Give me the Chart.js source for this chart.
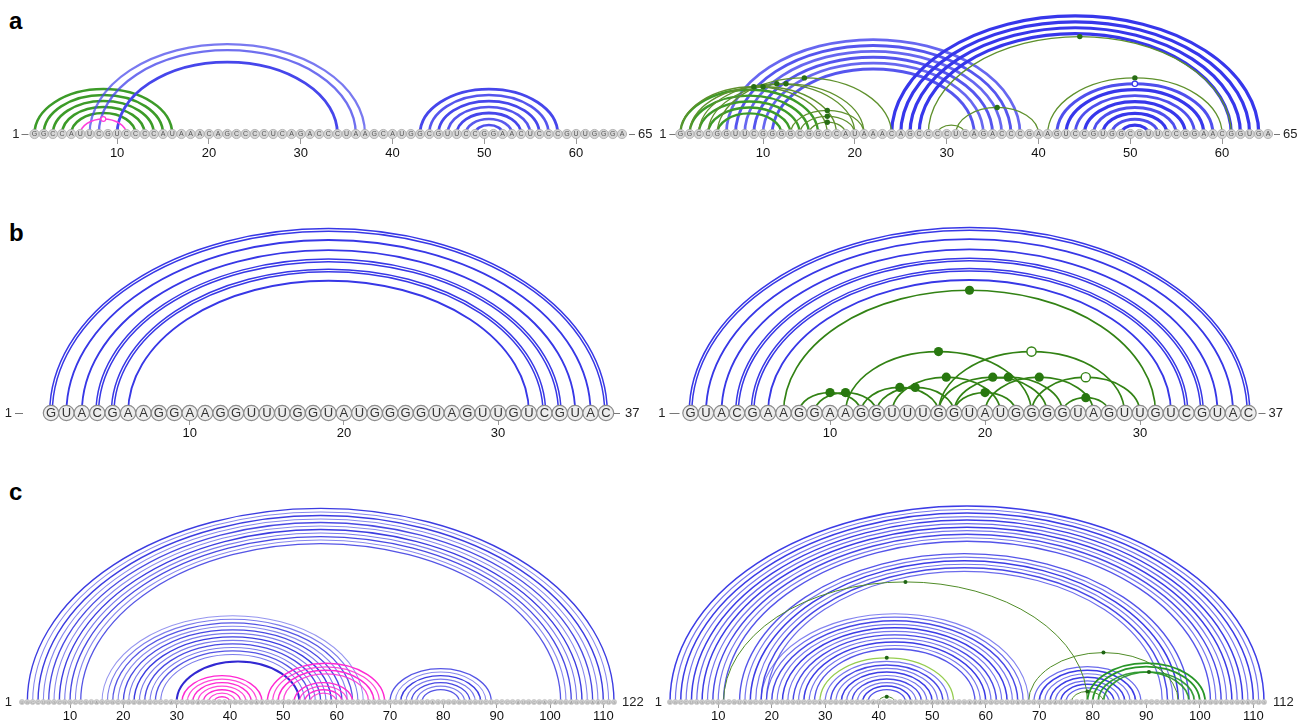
<!DOCTYPE html>
<html>
<head>
<meta charset="utf-8">
<script src="https://cdn.jsdelivr.net/npm/chart.js@4.4.1/dist/chart.umd.min.js"></script>
<style>
  html, body { margin: 0; padding: 0; background: #fff; overflow: hidden; }
  #fig { position: relative; width: 1299px; height: 720px; overflow: hidden; }
  #fig canvas { position: absolute; }
  .tag { position: absolute; font: bold 24px "Liberation Sans", Arial, sans-serif; color: #000; }
</style>
</head>
<body>
<div id="fig">
  <div class="tag" style="left:9px;top:7px">a</div>
  <div class="tag" style="left:9px;top:219px">b</div>
  <div class="tag" style="left:9px;top:478px">c</div>
</div>
<script>
// ---- sequences ----
const aLeftSeq = ['GGCCAUUCGU', 'CCCCAUAAAC', 'AGCCCCUCAG', 'ACCCUAAGCA', 'UGGCGUUCCG', 'GAACUCCCGU', 'UGGGA'].join('');
const aRightSeq = ['GGCCGGUUCG', 'GGGCGGCCAU', 'AAACAGCCCC', 'UCAGACCCGA', 'AGUCCGUGGC', 'GUUCCGGAAC', 'GGUGA'].join('');
const bSeq = ['GUACGAAGGA', 'AGGUUUGGUA', 'UGGGGUAGUU', 'GUCGUAC'].join('');
const cSeq = ['UGCCUGGCGG', 'CCGUAGCGCG', 'GUGGUCCCAC', 'CUGACCCCAU', 'GCCGAACUCA', 'GAAGUGAAAC',
  'GCCGUAGCGC', 'CGAUGGUAGU', 'GUGGGGUCUC', 'CCCAUGCGAG', 'AGUAGGGAAC', 'UG'].join('');

// ---- tick labels / end labels ----
const aTicks = [10, 20, 30, 40, 50, 60];
const bTicks = [10, 20, 30];
const cTicks = [10, 20, 30, 40, 50, 60, 70, 80, 90, 100, 110];
const aEnds = ['1', '65'];
const bEnds = ['1', '37'];
const cLeftEnds = ['1', '122'];
const cRightEnds = ['1', '112'];

// ---- base pairs [i, j, probability] ----
// panel a, left
const aLeftGreen = [[1, 16], [2, 15], [3, 14], [4, 13], [5, 12]];
const aLeftBlue = [[7, 37, 0.5], [8, 36, 0.6], [10, 34, 1],
  [43, 58, 1], [44, 57, 0.85], [45, 56, 1], [46, 55, 0.85], [47, 54, 1], [48, 53, 0.8], [49, 52, 0.9]];
const aLeftMagenta = [[6, 11]];

// panel a, right
const aRightBlue = [[6, 38, 0.6], [7, 37, 0.75], [8, 36, 0.6], [9, 35, 0.75], [10, 34, 0.6], [11, 33, 0.75],
  [24, 64, 1], [25, 63, 1], [26, 62, 1], [27, 61, 1],
  [42, 59, 0.8], [43, 58, 1], [44, 57, 0.8], [45, 56, 1], [46, 55, 0.8], [47, 54, 1], [48, 53, 0.8], [49, 52, 1]];
const aRightGreen = [[1, 16], [2, 15], [3, 14], [4, 13], [5, 12]];
const aRightGreenThin = [[1, 17], [2, 18], [3, 20], [4, 21], [5, 24], [13, 21], [14, 20], [15, 19],
  [29, 32], [31, 40], [41, 60], [28, 61]];
const aRightDots = [[1, 17], [2, 18], [3, 20], [4, 21], [5, 24], [13, 21], [14, 20], [15, 19], [31, 40], [41, 60], [28, 61]];
const aRightOpen = [[42, 59]];

// panel b
const bBlue = [[1, 37, 1], [2, 36, 0.6], [3, 35, 0.6], [4, 34, 1], [5, 33, 1], [6, 32, 0.6]];
const bRightGreen = [[7, 31], [11, 23], [17, 29], [14, 21], [17, 24], [18, 25], [20, 27], [23, 30],
  [12, 17], [13, 18], [8, 12], [9, 13], [18, 22], [25, 28]];
const bRightDots = [[7, 31], [11, 23], [14, 21], [17, 24], [18, 25], [20, 27], [12, 17], [13, 18],
  [8, 12], [9, 13], [18, 22], [25, 28]];
const bRightOpen = [[17, 29], [23, 30]];

// panel c, left
const cLeftBlue = [[2, 112, 1], [3, 111, 0.4], [4, 110, 1], [5, 109, 0.4], [6, 108, 0.9], [7, 107, 0.4],
  [8, 106, 1], [9, 105, 0.5], [10, 104, 0.9], [11, 103, 0.4], [12, 102, 0.8],
  [16, 65, 0.3], [17, 64, 0.5], [18, 63, 0.8], [19, 62, 0.4], [20, 61, 0.9], [21, 60, 0.5],
  [22, 59, 1], [23, 58, 0.5], [24, 57, 0.9], [25, 56, 0.5], [26, 55, 0.8], [27, 54, 0.5],
  [70, 89, 0.8], [71, 88, 0.4], [72, 87, 1], [73, 86, 0.5], [74, 85, 0.9], [75, 84, 0.5], [76, 83, 0.8]];
const cLeftBlueDark = [[30, 53]];
const cLeftMagenta = [[31, 46, 1], [32, 45, 0.7], [33, 44, 1], [34, 43, 0.7], [35, 42, 1], [36, 41, 0.7], [37, 40, 1],
  [47, 69, 1], [48, 68, 0.7], [49, 67, 1], [50, 66, 0.7],
  [52, 63, 1], [53, 62, 0.7], [54, 61, 1], [55, 60, 0.7]];

// panel c, right
const cRightBlue = [[1, 112, 1], [2, 111, 0.5], [3, 110, 1], [4, 109, 0.5], [5, 108, 1], [6, 107, 0.6],
  [7, 106, 1], [8, 105, 0.5], [9, 104, 0.9], [10, 103, 0.5], [11, 102, 0.8],
  [14, 98, 0.8], [15, 97, 0.5], [16, 96, 1], [17, 95, 0.5], [18, 94, 0.9], [19, 93, 0.6],
  [18, 68, 0.4], [19, 67, 0.6], [20, 66, 0.9], [21, 65, 0.5], [22, 64, 1], [23, 63, 0.5],
  [24, 62, 0.9], [25, 61, 0.5], [26, 60, 1], [27, 59, 0.5], [28, 58, 0.8],
  [30, 53, 0.5], [31, 52, 0.9], [32, 51, 0.5], [33, 50, 1], [34, 49, 0.5], [35, 48, 0.9],
  [36, 47, 0.5], [37, 46, 1], [38, 45, 0.8],
  [69, 89, 0.6], [70, 88, 1], [71, 87, 0.5], [72, 86, 1], [73, 85, 0.6], [74, 84, 1], [75, 83, 0.7]];
const cRightGreenThin = [[11, 79], [68, 96], [40, 43], [76, 82]];
const cRightGreenLight = [[29, 54]];
const cRightGreenThick = [[79, 101, 1], [80, 100, 1], [81, 98, 0.8], [82, 99, 0.8]];
const cRightDots = [[11, 79], [29, 54], [40, 43], [68, 96], [76, 82], [82, 99]];

// ---- drawing ----
const FONT = '"Liberation Sans", Arial, sans-serif';
const RATIO = 0.66; // arc height / half-width

const arcPlugin = {
  id: 'arcs',
  beforeDatasetsDraw(chart, args, o) {
    const { ctx } = chart;
    const x = chart.scales.x, y = chart.scales.y;
    const base = y.getPixelForValue(0);
    const geom = (i, j) => {
      const x1 = x.getPixelForValue(i), x2 = x.getPixelForValue(j);
      return { cx: (x1 + x2) / 2, rx: (x2 - x1) / 2, ry: base - y.getPixelForValue((j - i) / 2) };
    };
    ctx.save();
    // backbone
    ctx.strokeStyle = '#b0b0b0';
    ctx.lineWidth = 1;
    ctx.beginPath();
    ctx.moveTo(x.getPixelForValue(1), base);
    ctx.lineTo(x.getPixelForValue(o.seq.length), base);
    ctx.stroke();

    o.groups.forEach((g) => {
      g.pairs.forEach(([i, j, p = 1]) => {
        const { cx, rx, ry } = geom(i, j);
        ctx.strokeStyle = `rgba(${g.rgb},${g.a0 + (1 - g.a0) * p})`;
        const offs = g.gap && p >= 0.9 ? [-g.gap, g.gap] : [0];
        ctx.lineWidth = offs.length > 1 ? g.w2 : g.w * (0.6 + 0.4 * p);
        offs.forEach((d) => {
          ctx.beginPath();
          ctx.ellipse(cx, base, rx + d, ry + d, 0, Math.PI, 2 * Math.PI);
          ctx.stroke();
        });
      });
    });

    o.markers.forEach((m) => {
      m.pairs.forEach(([i, j]) => {
        const { cx, ry } = geom(i, j);
        ctx.beginPath();
        ctx.arc(cx, base - ry, m.r, 0, 2 * Math.PI);
        ctx.fillStyle = m.fill;
        ctx.fill();
        if (m.stroke) {
          ctx.strokeStyle = m.stroke;
          ctx.lineWidth = m.lw || 1;
          ctx.stroke();
        }
      });
    });
    ctx.restore();
  },
  afterDatasetsDraw(chart, args, o) {
    const { ctx } = chart;
    const x = chart.scales.x, y = chart.scales.y;
    const base = y.getPixelForValue(0);
    const N = o.seq.length;
    ctx.save();
    ctx.textAlign = 'center';
    ctx.textBaseline = 'middle';
    ctx.font = `${o.letterSize}px ${FONT}`;
    ctx.fillStyle = o.letterColor;
    o.seq.split('').forEach((b, k) => {
      ctx.fillText(b, x.getPixelForValue(k + 1), base + 0.5);
    });

    const x1 = x.getPixelForValue(1), xN = x.getPixelForValue(N);
    ctx.font = `13px ${FONT}`;
    ctx.fillStyle = '#222';
    ctx.textAlign = 'right';
    ctx.fillText(o.ends[0], x1 - o.endL[0], base);
    ctx.textAlign = 'left';
    ctx.fillText(o.ends[1], xN + o.endR[0], base);
    ctx.strokeStyle = '#777';
    ctx.lineWidth = 1;
    if (o.endL[1] > o.endL[2]) {
      ctx.beginPath();
      ctx.moveTo(x1 - o.endL[1], base + 0.5);
      ctx.lineTo(x1 - o.endL[2], base + 0.5);
      ctx.stroke();
    }
    if (o.endR[2] > o.endR[1]) {
      ctx.beginPath();
      ctx.moveTo(xN + o.endR[1], base + 0.5);
      ctx.lineTo(xN + o.endR[2], base + 0.5);
      ctx.stroke();
    }
    ctx.restore();
  },
};

const BLUE = '70,70,235';
const panels = [
  {
    left: 0, top: 0, width: 660, pos1: 34.5, posN: 622, base: 134, chartTop: 4,
    seq: aLeftSeq, ticks: aTicks, ends: aEnds, endL: [15, 13, 6], endR: [16, 7, 13],
    tl: 10, pad: 1, r: 4.6, fill: '#d6d6d6', border: '#a8a8a8', bw: 0.8, letterSize: 7, letterColor: '#555',
    groups: [
      { pairs: aLeftGreen, rgb: '60,155,40', w: 2.6, a0: 1 },
      { pairs: aLeftBlue, rgb: BLUE, w: 2.8, a0: 0.45 },
      { pairs: aLeftMagenta, rgb: '255,60,220', w: 1.7, a0: 1 },
    ],
    markers: [{ pairs: aLeftMagenta, r: 2.4, fill: '#fff', stroke: 'rgb(255,60,220)', lw: 1.2 }],
  },
  {
    left: 650, top: 0, width: 649, pos1: 680.4, posN: 1268, base: 134, chartTop: 2,
    seq: aRightSeq, ticks: aTicks, ends: aEnds, endL: [14, 11, 5], endR: [15, 6, 12],
    tl: 10, pad: 1, r: 4.6, fill: '#d6d6d6', border: '#a8a8a8', bw: 0.8, letterSize: 7, letterColor: '#555',
    groups: [
      { pairs: aRightBlue, rgb: '55,55,235', w: 3.2, a0: 0.4 },
      { pairs: aRightGreen, rgb: '60,155,40', w: 2.4, a0: 1 },
      { pairs: aRightGreenThin, rgb: '95,145,45', w: 1.3, a0: 1 },
    ],
    markers: [
      { pairs: aRightDots, r: 2.7, fill: 'rgb(40,110,20)' },
      { pairs: aRightOpen, r: 2.7, fill: '#fff', stroke: 'rgb(55,55,235)', lw: 1.2 },
    ],
  },
  {
    left: 0, top: 200, width: 660, pos1: 51, posN: 606, base: 413, chartTop: 215,
    seq: bSeq, ticks: bTicks, ends: bEnds, endL: [39, 36, 28], endR: [19, 8, 14],
    tl: 12, pad: 0, r: 7.7, fill: '#ededed', border: '#8c8c8c', bw: 1.2, letterSize: 13, letterColor: '#333',
    groups: [{ pairs: bBlue, rgb: '55,55,230', w: 2.2, w2: 1.5, gap: 1.3, a0: 1 }],
    markers: [],
  },
  {
    left: 650, top: 200, width: 649, pos1: 690.5, posN: 1248.5, base: 413, chartTop: 215,
    seq: bSeq, ticks: bTicks, ends: bEnds, endL: [25, 21, 11], endR: [20, 10, 17],
    tl: 12, pad: 0, r: 7.7, fill: '#ededed', border: '#8c8c8c', bw: 1.2, letterSize: 13, letterColor: '#333',
    groups: [
      { pairs: bBlue, rgb: '55,55,230', w: 2.2, w2: 1.5, gap: 1.3, a0: 1 },
      { pairs: bRightGreen, rgb: '50,130,20', w: 1.7, a0: 1 },
    ],
    markers: [
      { pairs: bRightDots, r: 4.6, fill: 'rgb(40,120,15)' },
      { pairs: bRightOpen, r: 4.6, fill: '#fff', stroke: 'rgb(50,130,20)', lw: 1.4 },
    ],
  },
  {
    left: 0, top: 480, width: 660, pos1: 22, posN: 614, base: 702, chartTop: 495,
    seq: cSeq, ticks: cTicks, ends: cLeftEnds, endL: [10, 0, 0], endR: [8, 0, 0],
    tl: 6, pad: 0, r: 2.6, fill: '#cfcfcf', border: '#b5b5b5', bw: 0.5, letterSize: 4, letterColor: '#999',
    groups: [
      { pairs: cLeftBlue, rgb: '60,60,225', w: 1.4, a0: 0.35 },
      { pairs: cLeftBlueDark, rgb: '50,40,210', w: 2, a0: 1 },
      { pairs: cLeftMagenta, rgb: '255,40,210', w: 1.4, a0: 0.5 },
    ],
    markers: [],
  },
  {
    left: 650, top: 480, width: 649, pos1: 670, posN: 1264, base: 702, chartTop: 495,
    seq: cSeq, ticks: cTicks, ends: cRightEnds, endL: [8, 0, 0], endR: [9, 0, 0],
    tl: 6, pad: 0, r: 2.6, fill: '#cfcfcf', border: '#b5b5b5', bw: 0.5, letterSize: 4, letterColor: '#999',
    groups: [
      { pairs: cRightBlue, rgb: '60,60,230', w: 1.5, a0: 0.4 },
      { pairs: cRightGreenLight, rgb: '150,205,80', w: 1.3, a0: 1 },
      { pairs: cRightGreenThin, rgb: '80,140,40', w: 1, a0: 1 },
      { pairs: cRightGreenThick, rgb: '40,150,40', w: 1.8, a0: 0.6 },
    ],
    markers: [{ pairs: cRightDots, r: 2, fill: 'rgb(30,100,20)' }],
  },
];

const fig = document.getElementById('fig');
panels.forEach((p) => {
  const N = p.seq.length;
  const lineH = 16;
  const axisH = p.tl + lineH + 2 * p.pad;
  const h = p.base - p.top + axisH;
  const canvas = document.createElement('canvas');
  canvas.width = p.width;
  canvas.height = h;
  canvas.style.left = p.left + 'px';
  canvas.style.top = p.top + 'px';
  canvas.style.width = p.width + 'px';
  canvas.style.height = h + 'px';
  fig.appendChild(canvas);

  const pxPerNt = (p.posN - p.pos1) / (N - 1);
  const ymax = (p.base - p.chartTop) / (RATIO * pxPerNt);

  new Chart(canvas, {
    type: 'scatter',
    data: {
      datasets: [{
        data: p.seq.split('').map((b, k) => ({ x: k + 1, y: 0 })),
        pointRadius: p.r,
        pointBackgroundColor: p.fill,
        pointBorderColor: p.border,
        pointBorderWidth: p.bw,
        clip: false,
      }],
    },
    options: {
      responsive: false,
      animation: false,
      devicePixelRatio: 1,
      events: [],
      layout: {
        padding: { left: p.pos1 - p.left, right: p.left + p.width - p.posN, top: p.chartTop - p.top, bottom: 0 },
      },
      plugins: {
        legend: { display: false },
        tooltip: { enabled: false },
        arcs: {
          seq: p.seq, groups: p.groups, markers: p.markers, ends: p.ends, endL: p.endL, endR: p.endR,
          letterSize: p.letterSize, letterColor: p.letterColor,
        },
      },
      scales: {
        x: {
          type: 'linear', min: 1, max: N,
          afterBuildTicks: (ax) => { ax.ticks = p.ticks.map((v) => ({ value: v })); },
          ticks: { autoSkip: false, maxRotation: 0, padding: p.pad, color: '#111',
            font: { family: FONT, size: 13, lineHeight: lineH + 'px' } },
          grid: { drawOnChartArea: false, drawTicks: true, tickLength: p.tl, color: '#999', tickWidth: 1 },
          border: { display: false },
        },
        y: { type: 'linear', display: false, min: 0, max: ymax },
      },
    },
    plugins: [arcPlugin],
  });
});
</script>
</body>
</html>
